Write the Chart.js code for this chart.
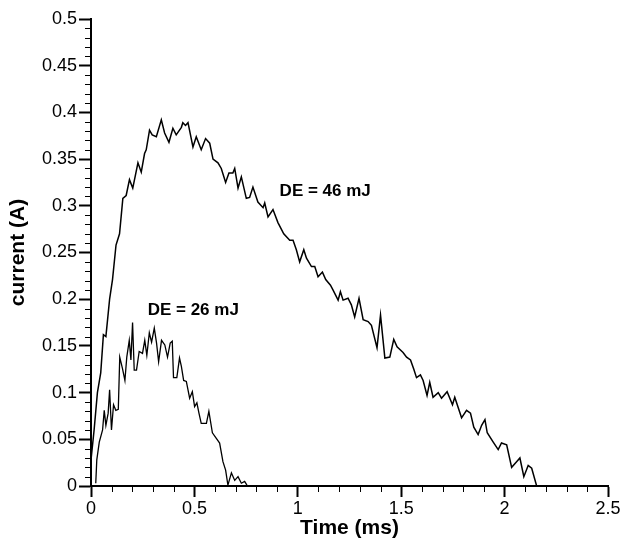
<!DOCTYPE html>
<html>
<head>
<meta charset="utf-8">
<script src="https://cdn.jsdelivr.net/npm/chart.js@4/dist/chart.umd.min.js"></script>
<style>
  body { margin: 0; background: #fff; }
  #wrap { width: 627px; height: 541px; }
</style>
</head>
<body>
<div id="wrap"><canvas id="chartCurrent" width="627" height="541"></canvas></div>
<script>
// DE = 46 mJ discharge, time (ms) and current (A)
const t46 = [
  0.001, 0.015, 0.031, 0.047, 0.06, 0.072, 0.09, 0.104, 0.121, 0.138,
  0.154, 0.17, 0.186, 0.202, 0.227, 0.243, 0.259, 0.267, 0.283, 0.296,
  0.316, 0.34, 0.356, 0.377, 0.396, 0.412, 0.437, 0.444, 0.457, 0.469,
  0.493, 0.509, 0.533, 0.554, 0.574, 0.59, 0.614, 0.63, 0.651, 0.667,
  0.686, 0.695, 0.711, 0.727, 0.751, 0.767, 0.783, 0.807, 0.832, 0.84,
  0.856, 0.88, 0.904, 0.932, 0.961, 0.977, 0.993, 1.009, 1.029, 1.042,
  1.066, 1.082, 1.098, 1.119, 1.135, 1.158, 1.17, 1.195, 1.206, 1.219,
  1.243, 1.259, 1.275, 1.296, 1.316, 1.34, 1.356, 1.383, 1.4, 1.421,
  1.445, 1.464, 1.48, 1.509, 1.526, 1.545, 1.561, 1.574, 1.593, 1.606,
  1.625, 1.638, 1.654, 1.679, 1.695, 1.722, 1.748, 1.759, 1.792, 1.816,
  1.835, 1.851, 1.872, 1.889, 1.905, 1.916, 1.945, 1.969, 1.985, 2.01,
  2.034, 2.058, 2.074, 2.093, 2.114, 2.131, 2.155
];
const i46 = [
  0.03, 0.06, 0.1, 0.121, 0.162, 0.16, 0.2, 0.221, 0.258, 0.27,
  0.308, 0.311, 0.328, 0.319, 0.346, 0.336, 0.356, 0.36, 0.381, 0.376,
  0.374, 0.392, 0.378, 0.368, 0.383, 0.376, 0.384, 0.389, 0.386, 0.389,
  0.363, 0.374, 0.36, 0.372, 0.367, 0.35, 0.346, 0.34, 0.325, 0.335,
  0.335, 0.34, 0.319, 0.331, 0.308, 0.309, 0.32, 0.304, 0.298, 0.303,
  0.288, 0.296, 0.282, 0.27, 0.263, 0.263, 0.253, 0.24, 0.253, 0.244,
  0.235, 0.235, 0.224, 0.229, 0.221, 0.215, 0.21, 0.199, 0.208, 0.199,
  0.201, 0.194, 0.181, 0.201, 0.178, 0.176, 0.172, 0.148, 0.183, 0.137,
  0.138, 0.157, 0.149, 0.143, 0.138, 0.135, 0.125, 0.116, 0.119, 0.113,
  0.097, 0.111, 0.095, 0.1, 0.094, 0.101, 0.087, 0.095, 0.073, 0.081,
  0.078, 0.063, 0.055, 0.065, 0.071, 0.057, 0.047, 0.039, 0.046, 0.044,
  0.02, 0.026, 0.03, 0.01, 0.022, 0.019, 0.0
];

// DE = 26 mJ discharge
const t26 = [
  0.023, 0.028, 0.04, 0.056, 0.064, 0.072, 0.083, 0.09, 0.099, 0.109,
  0.12, 0.132, 0.139, 0.152, 0.164, 0.173, 0.185, 0.193, 0.201, 0.209,
  0.22, 0.233, 0.249, 0.26, 0.27, 0.282, 0.293, 0.306, 0.317, 0.327,
  0.341, 0.357, 0.37, 0.383, 0.393, 0.399, 0.415, 0.428, 0.437, 0.448,
  0.461, 0.477, 0.49, 0.501, 0.512, 0.522, 0.533, 0.558, 0.57, 0.587,
  0.606, 0.622, 0.638, 0.651, 0.662, 0.679, 0.695, 0.711, 0.727, 0.743,
  0.754
];
const i26 = [
  0.003, 0.028, 0.047, 0.06, 0.081, 0.065, 0.078, 0.103, 0.06, 0.087,
  0.081, 0.082, 0.138, 0.126, 0.113, 0.138, 0.156, 0.135, 0.175, 0.124,
  0.124, 0.144, 0.142, 0.156, 0.14, 0.164, 0.154, 0.169, 0.153, 0.133,
  0.156, 0.151, 0.138, 0.153, 0.155, 0.116, 0.116, 0.137, 0.128, 0.113,
  0.112, 0.094, 0.101, 0.085, 0.089, 0.078, 0.067, 0.067, 0.08, 0.057,
  0.051, 0.046, 0.026, 0.017, 0.001, 0.014, 0.006, 0.01, 0.003, 0.005,
  0.001
];

const labels = [
  { text: 'DE = 46 mJ', x: 0.912, y: 0.315 },
  { text: 'DE = 26 mJ', x: 0.274, y: 0.188 }
];

const pts = (xs, ys) => xs.map((x, k) => ({ x: x, y: ys[k] }));
const fmt = v => String(+Number(v).toFixed(2));
const FONT = '"Liberation Sans", Arial, sans-serif';

// minor tick marks and the two curve labels
const extras = {
  id: 'extras',
  afterDraw(chart) {
    const { ctx, chartArea, scales } = chart;
    const xs = scales.x, ys = scales.y;
    ctx.save();
    ctx.strokeStyle = '#000';
    ctx.lineWidth = 1;
    ctx.beginPath();
    for (let k = 0; k <= 50; k++) {
      if (k % 5 === 0) continue;
      const py = Math.round(ys.getPixelForValue(k / 100)) + 0.5;
      ctx.moveTo(chartArea.left - 6, py);
      ctx.lineTo(chartArea.left, py);
    }
    for (let k = 0; k <= 25; k++) {
      if (k % 5 === 0) continue;
      const px = Math.round(xs.getPixelForValue(k / 10)) + 0.5;
      ctx.moveTo(px, chartArea.bottom);
      ctx.lineTo(px, chartArea.bottom + 6);
    }
    ctx.stroke();

    ctx.fillStyle = '#000';
    ctx.font = 'bold 17px ' + FONT;
    ctx.textBaseline = 'middle';
    ctx.textAlign = 'left';
    labels.forEach(l => {
      ctx.fillText(l.text, xs.getPixelForValue(l.x), ys.getPixelForValue(l.y));
    });
    ctx.restore();
  }
};

const ctx = document.getElementById('chartCurrent').getContext('2d');
new Chart(ctx, {
  type: 'line',
  data: {
    datasets: [{
      label: 'DE = 46 mJ',
      data: pts(t46, i46),
      borderColor: '#000',
      borderWidth: 1.5,
      pointRadius: 0,
      tension: 0
    }, {
      label: 'DE = 26 mJ',
      data: pts(t26, i26),
      borderColor: '#000',
      borderWidth: 1.3,
      pointRadius: 0,
      tension: 0
    }]
  },
  options: {
    responsive: false,
    animation: false,
    layout: { padding: { left: 0, right: 19, top: 19, bottom: 0 } },
    plugins: {
      legend: { display: false },
      tooltip: { enabled: false }
    },
    scales: {
      x: {
        type: 'linear',
        min: 0,
        max: 2.5,
        afterFit: s => { s.height = 55; },
        border: { display: true, color: '#000', width: 2 },
        grid: { drawOnChartArea: false, drawTicks: true, tickLength: 11, tickWidth: 2, tickColor: '#000' },
        ticks: {
          stepSize: 0.5,
          color: '#000',
          padding: 1,
          maxRotation: 0,
          font: { family: FONT, size: 18 },
          callback: fmt
        },
        title: {
          display: true,
          text: 'Time (ms)',
          color: '#000',
          padding: { top: 0, bottom: 0 },
          font: { family: FONT, size: 21, weight: 'bold' }
        }
      },
      y: {
        min: 0,
        max: 0.5,
        afterFit: s => { s.width = 91; },
        border: { display: true, color: '#000', width: 2 },
        grid: { drawOnChartArea: false, drawTicks: true, tickLength: 12, tickWidth: 2, tickColor: '#000' },
        ticks: {
          stepSize: 0.05,
          color: '#000',
          padding: 2,
          font: { family: FONT, size: 18 },
          callback: fmt
        },
        title: {
          display: true,
          text: 'current (A)',
          color: '#000',
          padding: { top: 6, bottom: 0 },
          font: { family: FONT, size: 21, weight: 'bold' }
        }
      }
    }
  },
  plugins: [extras]
});
</script>
</body>
</html>
